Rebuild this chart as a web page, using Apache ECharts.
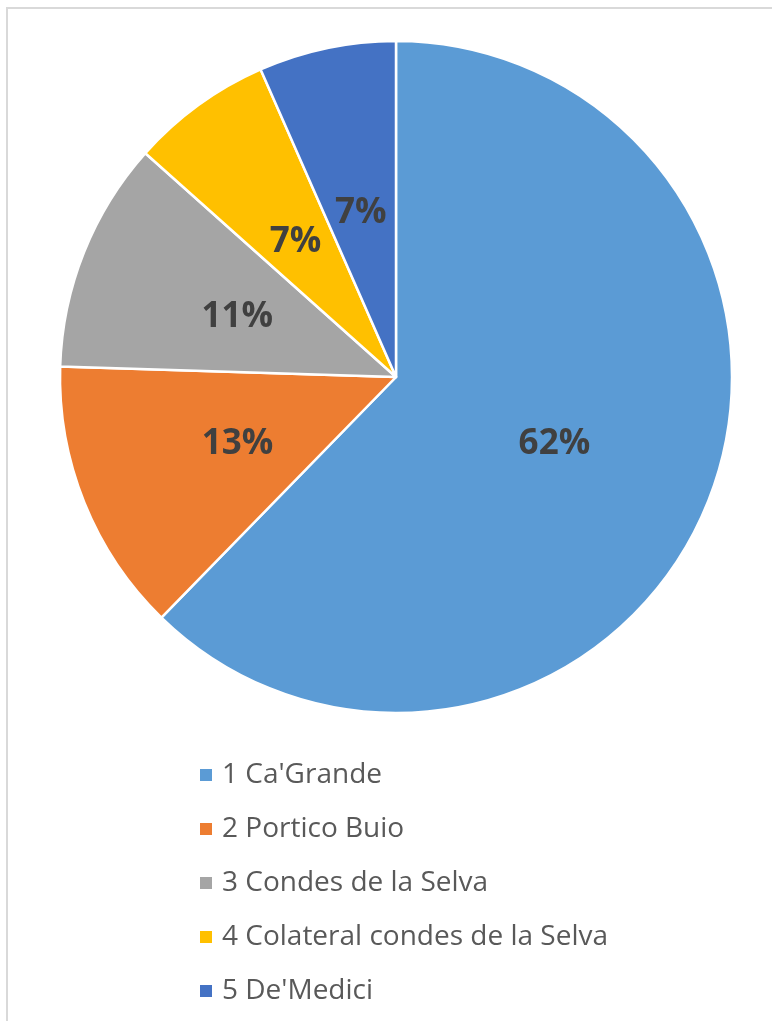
<!DOCTYPE html>
<html><head><meta charset="utf-8">
<script src="https://cdn.jsdelivr.net/npm/echarts@6/dist/echarts.min.js"></script>
<style>html,body{margin:0;padding:0;background:#fff}#c{width:772px;height:1021px}</style>
</head><body><div id="c"></div>
<script>
var categories = ["1 Ca'Grande", "2 Portico Buio", "3 Condes de la Selva", "4 Colateral condes de la Selva", "5 De'Medici"];
var values = [62.3, 13.2, 11.1, 6.8, 6.6];
var colors = ["#5B9BD5", "#ED7D31", "#A5A5A5", "#FFC000", "#4472C4"];

var chart = echarts.init(document.getElementById('c'), null, {renderer: 'canvas'});
chart.setOption({
  animation: false,
  color: colors,
  graphic: [{
    type: 'rect', silent: true,
    shape: {x: 7, y: 8, width: 820, height: 1100},
    style: {fill: 'none', stroke: '#d9d9d9', lineWidth: 2}
  }],
  legend: {
    orient: 'vertical', left: 193, top: 753,
    itemWidth: 14, itemHeight: 14, itemGap: 20, icon: 'rect',
    textStyle: {fontFamily: 'Open Sans', fontSize: 28, color: '#595959', lineHeight: 34, padding: [0,0,0,4]},
    data: categories
  },
  series: [{
    type: 'pie',
    center: [396, 377], radius: 336,
    startAngle: 90, clockwise: true,
    itemStyle: {borderColor: '#fff', borderWidth: 2.5},
    label: {
      show: true, position: 'inside',
      formatter: function (p) { return Math.round(p.percent) + '%'; },
      fontFamily: 'Open Sans', fontWeight: 'bold', fontSize: 35, color: '#404040',
      offset: [0, 3]
    },
    labelLine: {show: false},
    data: categories.map(function (c, i) { return {name: c, value: values[i]}; })
  }]
});
</script></body></html>
